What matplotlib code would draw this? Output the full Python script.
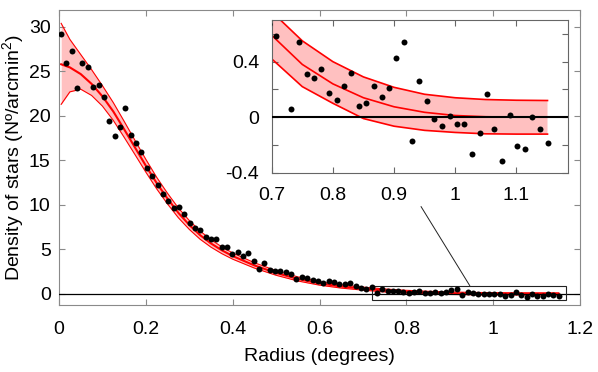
import matplotlib
matplotlib.use('Agg')
import matplotlib.pyplot as plt
from matplotlib.patches import Rectangle

# ---------------- data ----------------
radius = [0.005, 0.017, 0.030, 0.042, 0.054, 0.067, 0.079, 0.091, 0.104, 0.116,
          0.128, 0.141, 0.153, 0.165, 0.177, 0.190, 0.202, 0.214, 0.227, 0.239,
          0.251, 0.264, 0.276, 0.288, 0.301, 0.313, 0.325, 0.338, 0.350, 0.362,
          0.375, 0.387, 0.399, 0.412, 0.424, 0.436, 0.449, 0.461, 0.473, 0.486,
          0.498, 0.510, 0.522, 0.535, 0.547, 0.559, 0.572, 0.584, 0.596, 0.609,
          0.621, 0.633, 0.646, 0.658, 0.670, 0.683, 0.695, 0.707, 0.720, 0.732,
          0.744, 0.757, 0.769, 0.781, 0.793, 0.806, 0.818, 0.830, 0.843, 0.855,
          0.867, 0.880, 0.892, 0.904, 0.917, 0.929, 0.941, 0.954, 0.966, 0.978,
          0.991, 1.003, 1.015, 1.028, 1.040, 1.052, 1.064, 1.077, 1.089, 1.101,
          1.114, 1.126, 1.138, 1.151]

density = [29.2, 26.0, 27.3, 23.1, 26.0, 25.5, 23.25, 23.5, 22.1, 19.4,
           17.7, 18.7, 20.9, 17.9, 17.0, 15.9, 14.1, 13.25, 12.2, 11.2,
           10.45, 9.6, 9.8, 8.95, 8.0, 7.4, 7.2, 6.35, 6.2, 6.2,
           5.26, 5.26, 4.48, 4.74, 4.25, 4.62, 3.65, 2.85, 3.47, 2.68,
           2.62, 2.55, 2.42, 2.2, 1.72, 1.88, 1.78, 1.58, 1.45, 1.23,
           1.45, 1.38, 1.06, 1.06, 1.2, 0.9, 0.67, 0.587, 0.80, 0.058,
           0.543, 0.310, 0.284, 0.347, 0.177, 0.126, 0.228, 0.320, 0.078, 0.104,
           0.228, 0.145, 0.213, 0.429, 0.543, -0.175, 0.264, 0.114, -0.012, -0.061,
           0.012, -0.051, -0.046, -0.262, -0.112, 0.167, -0.087, -0.315, 0.019, -0.206,
           -0.228, 0.0, -0.087, -0.184]

# fitted profile (centre and confidence band)
fit_r = [0.005, 0.025, 0.05, 0.075, 0.10, 0.125, 0.15, 0.175, 0.20, 0.225,
         0.25, 0.275, 0.30, 0.325, 0.35, 0.375, 0.40, 0.45, 0.50, 0.55,
         0.60, 0.65, 0.70, 0.75, 0.80, 0.85, 0.90, 0.95, 1.00, 1.05,
         1.10, 1.151]
fit_mid = [25.8, 25.45, 24.7, 23.6, 22.2, 20.5, 18.5, 16.45, 14.4, 12.45,
           10.7, 9.1, 7.75, 6.6, 5.67, 4.9, 4.25, 3.2, 2.35, 1.68,
           1.18, 0.83, 0.59, 0.38, 0.24, 0.14, 0.075, 0.035, 0.012, 0.003,
           0.0, 0.0]
fit_hi = [30.4, 28.6, 26.9, 25.2, 23.4, 21.5, 19.4, 17.25, 15.12, 13.1,
          11.3, 9.65, 8.25, 7.06, 6.09, 5.28, 4.6, 3.5, 2.61, 1.91,
          1.38, 1.01, 0.76, 0.55, 0.40, 0.29, 0.215, 0.165, 0.14, 0.127,
          0.122, 0.12]
fit_lo = [21.3, 22.7, 23.0, 22.3, 21.1, 19.5, 17.6, 15.65, 13.68, 11.8,
          10.1, 8.55, 7.25, 6.14, 5.25, 4.52, 3.9, 2.9, 2.09, 1.45,
          0.98, 0.65, 0.42, 0.22, 0.10, -0.01, -0.065, -0.095, -0.11, -0.12,
          -0.122, -0.122]

x_ticks = [0, 0.2, 0.4, 0.6, 0.8, 1.0, 1.2]
x_ticklabels = ['0', '0.2', '0.4', '0.6', '0.8', '1', '1.2']
y_ticks = [0, 5, 10, 15, 20, 25, 30]
inset_x_ticks = [0.7, 0.8, 0.9, 1.0, 1.1]
inset_x_ticklabels = ['0.7', '0.8', '0.9', '1', '1.1']
inset_y_ticks = [-0.4, -0.2, 0.0, 0.2, 0.4, 0.6]
inset_y_ticklabels = ['-0.4', '', '0', '', '0.4', '']

# ---------------- style ----------------
plt.rcParams['font.family'] = ['Liberation Sans', 'DejaVu Sans']
plt.rcParams['mathtext.fontset'] = 'custom'
plt.rcParams['mathtext.rm'] = 'Liberation Sans'
plt.rcParams['mathtext.it'] = 'Liberation Sans:italic'

FILL = '#ffc0c0'
SPINE_MAIN = '#8a8a8a'
SPINE_INSET = '#666666'

fig = plt.figure(figsize=(5.98, 3.72), dpi=100)

# ---------------- main axes ----------------
ax = fig.add_axes([59 / 598, 1 - 305 / 372, (580 - 59) / 598, (305 - 10) / 372])
ax.fill_between(fit_r, fit_lo, fit_hi, color=FILL, lw=0, zorder=1)
ax.plot(fit_r, fit_hi, color='red', lw=0.8, zorder=2)
ax.plot(fit_r, fit_lo, color='red', lw=0.8, zorder=2)
ax.plot(fit_r, fit_mid, color='red', lw=1.5, zorder=2)
ax.axhline(0, color='black', lw=0.9, zorder=3)
ax.add_patch(Rectangle((0.721, -0.64), 1.167 - 0.721, 0.93 + 0.64,
                       fill=False, ec='#222222', lw=0.8, zorder=4))
ax.plot([0.834, 0.946], [9.8, 0.93], color='#222222', lw=0.7, zorder=4)
ax.plot(radius, density, 'o', color='black', ms=4.3, mew=0, zorder=5)

ax.set_xlim(0, 1.2)
ax.set_ylim(-1.25, 31.9)
ax.set_xticks(x_ticks)
ax.set_xticklabels(x_ticklabels)
ax.set_yticks(y_ticks)
ax.tick_params(direction='in', top=True, right=True, length=4, width=0.8,
               color=SPINE_MAIN, labelsize=14)
ax.tick_params(axis='x', pad=11.5)
ax.tick_params(axis='y', pad=6)
for s in ax.spines.values():
    s.set_color(SPINE_MAIN)
    s.set_linewidth(0.8)
ax.set_xlabel('Radius (degrees)', fontsize=14, labelpad=7)
ax.set_ylabel('Density of stars (Nº/arcmin$^2$)', fontsize=14, labelpad=2)

# ---------------- inset axes ----------------
ins = fig.add_axes([271.7 / 598, 1 - 172.7 / 372, (568.3 - 271.7) / 598, (172.7 - 20) / 372])
ins.set_facecolor('white')
ins.fill_between(fit_r, fit_lo, fit_hi, color=FILL, lw=0, zorder=1)
ins.plot(fit_r, fit_hi, color='red', lw=1.2, zorder=2)
ins.plot(fit_r, fit_lo, color='red', lw=1.2, zorder=2)
ins.plot(fit_r, fit_mid, color='red', lw=1.2, zorder=2)
ins.axhline(0, color='black', lw=1.5, zorder=3)
ins.plot(radius, density, 'o', color='black', ms=4.3, mew=0, zorder=5)
ins.set_xlim(0.7, 1.185)
ins.set_ylim(-0.4, 0.7)
ins.set_xticks(inset_x_ticks)
ins.set_xticklabels(inset_x_ticklabels)
ins.set_yticks(inset_y_ticks)
ins.set_yticklabels(inset_y_ticklabels)
ins.tick_params(direction='in', top=True, right=True, length=4, width=0.8,
                color=SPINE_INSET, labelsize=14)
ins.tick_params(axis='x', pad=10)
ins.tick_params(axis='y', pad=9)
for s in ins.spines.values():
    s.set_color(SPINE_INSET)
    s.set_linewidth(0.8)

fig.savefig('out.png', dpi=100)
